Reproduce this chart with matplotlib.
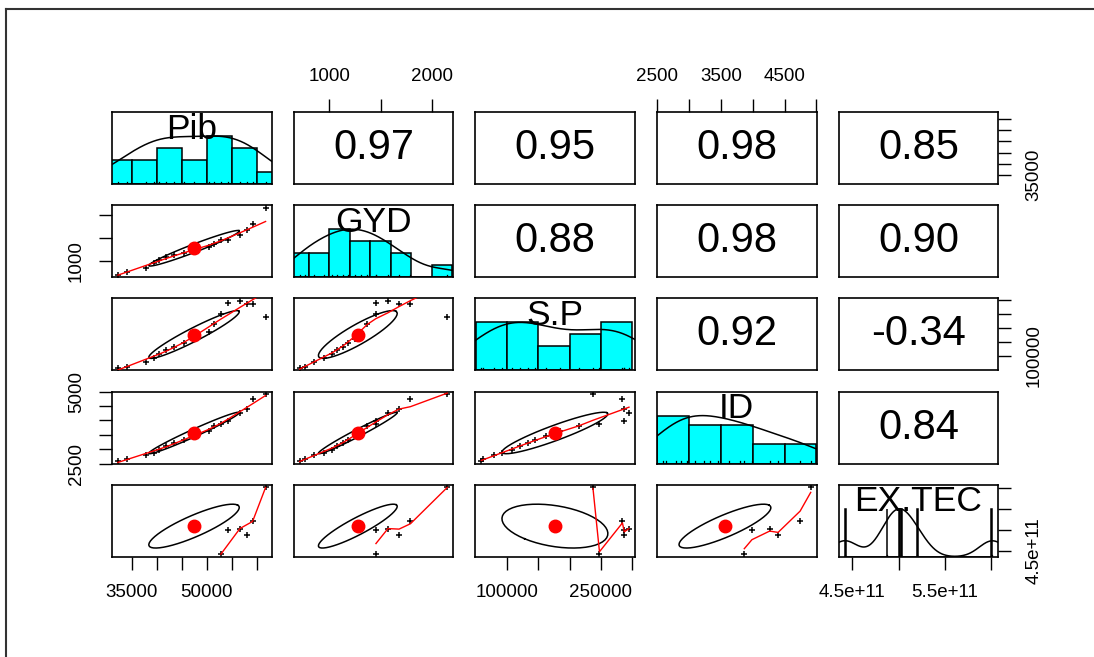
import numpy as np
import matplotlib
matplotlib.use('Agg')
import matplotlib.pyplot as plt
from matplotlib.lines import Line2D

plt.rcParams['font.family'] = ['Liberation Sans', 'DejaVu Sans']

nan = np.nan

## variables (17 observations, EX.TEC only known for the last six)
names = ['Pib', 'GYD', 'S.P', 'ID', 'EX.TEC']
pib = [32250, 34000, 37800, 39500, 40500, 41800, 43500, 45500, 47500, 50500, 51500,
       52860, 54200, 56660, 58120, 59200, 61800]
gyd = [711, 760, 850, 950, 1030, 1080, 1130, 1180, 1250, 1310, 1370,
       1455, 1460, 1572, 1680, 1791, 2150]
sp = [58360, 61000, 78500, 92000, 108000, 121000, 133000, 145000, 162000, 185000, 215000,
      247700, 287500, 295000, 286200, 284500, 237300]
id_ = [2590, 2640, 2800, 2880, 2960, 3100, 3230, 3330, 3450, 3620, 3800,
       3867, 3987, 4265, 4398, 4744, 4910]
ex_tec = [nan] * 11 + [4.42e11, 5.00e11, 5.03e11, 4.87e11, 5.20e11, 6.01e11]

# printed correlations, upper triangle row by row
r_values = [0.97, 0.95, 0.98, 0.85,
            0.88, 0.98, 0.90,
            0.92, -0.34,
            0.84]

# histogram bin widths
hist_step = [5000, 200, 50000, 500, 1e9]

# axis ticks / labels shown around the matrix
pib_ticks = [35000, 40000, 45000, 50000, 55000, 60000]
pib_bottom_labels = ['35000', '', '', '50000', '', '']
pib_right_labels = ['35000', '', '', '', '', '']
gyd_ticks = [1000, 1500, 2000]
gyd_top_labels = ['1000', '', '2000']
gyd_left_labels = ['1000', '', '']
sp_ticks = [100000, 150000, 200000, 250000, 300000]
sp_bottom_labels = ['100000', '', '', '250000', '']
sp_right_labels = ['100000', '', '', '', '']
id_ticks = [2500, 3000, 3500, 4000, 4500, 5000]
id_top_labels = ['2500', '', '3500', '', '4500', '']
id_left_labels = ['2500', '', '', '', '', '5000']
ex_ticks = [4.5e11, 5.0e11, 5.5e11, 6.0e11]
ex_bottom_labels = ['4.5e+11', '', '5.5e+11', '']
ex_right_labels = ['4.5e+11', '', '', '']

data = [np.array(v, dtype=float) for v in (pib, gyd, sp, id_, ex_tec)]
nv = len(data)

R = np.eye(nv)
k = 0
for i in range(nv):
	for j in range(i + 1, nv):
		R[i, j] = R[j, i] = r_values[k]
		k += 1


def lims(v):
	v = v[np.isfinite(v)]
	lo, hi = v.min(), v.max()
	d = 0.04 * (hi - lo)
	return lo - d, hi + d


def lowess(x, y, f=2 / 3., iters=3):
	o = np.argsort(x, kind='stable')
	x, y = x[o], y[o]
	n = len(x)
	ns = max(min(int(round(f * n)), n), 2)
	rw = np.ones(n)
	fit = np.zeros(n)
	xr = x[-1] - x[0]
	for it in range(iters + 1):
		for i in range(n):
			d = np.abs(x - x[i])
			h = np.sort(d)[ns - 1]
			if h > 0:
				u = d / h
				w = np.where(u <= 0.999, (1 - u ** 3) ** 3, 0.0)
				w[u <= 0.001] = 1.0
			else:
				w = (d == 0).astype(float)
			w = w * rw
			if w.sum() <= 0:
				fit[i] = y[i]
				continue
			w = w / w.sum()
			a = (w * x).sum()
			c = (w * (x - a) ** 2).sum()
			if np.sqrt(c) > 0.001 * xr:
				b = (x[i] - a) / c
				w = w * (b * (x - a) + 1.0)
			fit[i] = (w * y).sum()
		if it == iters:
			break
		res = y - fit
		cmad = 6 * np.median(np.abs(res))
		if cmad < 1e-7 * np.mean(np.abs(y)):
			break
		r = np.abs(res) / cmad
		rw = np.where(r <= 0.999, (1 - r ** 2) ** 2, 0.0)
		rw[r <= 0.001] = 1.0
	return x, fit


def density(v):
	v = v[np.isfinite(v)]
	n = len(v)
	q75, q25 = np.percentile(v, [75, 25])
	bw = 1.06 * min(v.std(ddof=1), (q75 - q25) / 1.34) * n ** -0.2
	gx = np.linspace(v.min() - 3 * bw, v.max() + 3 * bw, 512)
	gy = np.exp(-0.5 * ((gx[:, None] - v[None, :]) / bw) ** 2).sum(1)
	return gx, gy / gy.max()


W, H = 1094, 657
fig = plt.figure(figsize=(W / 100, H / 100), dpi=100)

col_left = [112 + 181.7 * c for c in range(nv)]
row_top = [112 + 93.2 * r for r in range(nv)]
pw, ph = 159.5, 72

axes = {}
for i in range(nv):
	for j in range(nv):
		ax = fig.add_axes([col_left[j] / W, 1 - (row_top[i] + ph) / H, pw / W, ph / H])
		axes[i, j] = ax
		xlo, xhi = lims(data[j])
		ylo, yhi = lims(data[i])
		ax.set_xlim(xlo, xhi)
		ax.set_ylim(ylo, yhi)
		ax.set_xticks([])
		ax.set_yticks([])
		for s in ax.spines.values():
			s.set_linewidth(1.2)
			s.set_color('black')

		if i == j:
			v = data[i]
			fv = v[np.isfinite(v)]
			st = hist_step[i]
			b0 = np.floor(fv.min() / st) * st
			b1 = np.ceil(fv.max() / st) * st
			edges = np.arange(b0, b1 + st * 0.5, st)
			cnt, edges = np.histogram(fv, bins=edges)
			hgt = cnt / cnt.max() / 1.5 * (yhi - ylo)
			ax.bar(edges[:-1], hgt, width=st, bottom=ylo, align='edge',
			       color='#00FFFF', edgecolor='black', linewidth=1.1, zorder=2)
			gx, gy = density(v)
			ax.plot(gx, ylo + gy / 1.5 * (yhi - ylo), color='black', lw=1.1, zorder=3)
			for xv in fv:
				ax.plot([xv, xv], [0, 0.03], color='black', lw=0.9,
				        transform=ax.get_xaxis_transform(), zorder=3)
			ax.text(0.5, 0.63, names[i], transform=ax.transAxes, ha='center',
			        va='baseline', fontsize=25.5, zorder=10)
		elif i < j:
			ax.text(0.5, 0.5, '%.2f' % R[i, j], transform=ax.transAxes, ha='center',
			        va='center', fontsize=30)
		else:
			x, y = data[j], data[i]
			ok = np.isfinite(x) & np.isfinite(y)
			ax.plot(x[ok], y[ok], '+', color='black', markersize=5, mew=1.1, zorder=2)
			xm, ym = np.nanmean(x), np.nanmean(y)
			xs, ys = np.nanstd(x, ddof=1), np.nanstd(y, ddof=1)
			r = R[i, j]
			th = np.sign(r) / np.sqrt(2) if abs(r) > 0 else 1 / np.sqrt(2)
			ang = np.linspace(0, 2 * np.pi, 52)
			a, b = np.sqrt(1 + r), np.sqrt(1 - r)
			ex = th * (a * np.cos(ang) - b * np.sin(ang)) * xs + xm
			ey = th * (a * np.cos(ang) + b * np.sin(ang)) * ys + ym
			ax.plot(xm, ym, 'o', color='red', markersize=9, zorder=4)
			ax.plot(ex, ey, color='black', lw=1.1, zorder=3)
			lx, ly = lowess(x[ok], y[ok])
			ax.plot(lx, ly, color='red', lw=1.0, zorder=5)

tick_kw = dict(direction='out', length=9.4, width=1.0, pad=10, labelsize=13.5, colors='black')


def top_axis(ax, ticks, labels):
	ax.set_xticks(ticks, labels=labels)
	ax.tick_params(axis='x', top=True, bottom=False, labeltop=True, labelbottom=False, **tick_kw)


def bottom_axis(ax, ticks, labels):
	ax.set_xticks(ticks, labels=labels)
	ax.tick_params(axis='x', **tick_kw)


def left_axis(ax, ticks, labels):
	ax.set_yticks(ticks, labels=labels, rotation=90, va='center')
	ax.tick_params(axis='y', **tick_kw)


def right_axis(ax, ticks, labels):
	ax.set_yticks(ticks, labels=labels, rotation=90, va='center')
	ax.tick_params(axis='y', right=True, left=False, labelright=True, labelleft=False, **tick_kw)


top_axis(axes[0, 1], gyd_ticks, gyd_top_labels)
top_axis(axes[0, 3], id_ticks, id_top_labels)
bottom_axis(axes[4, 0], pib_ticks, pib_bottom_labels)
bottom_axis(axes[4, 2], sp_ticks, sp_bottom_labels)
bottom_axis(axes[4, 4], ex_ticks, ex_bottom_labels)
left_axis(axes[1, 0], gyd_ticks, gyd_left_labels)
left_axis(axes[3, 0], id_ticks, id_left_labels)
right_axis(axes[0, 4], pib_ticks, pib_right_labels)
right_axis(axes[2, 4], sp_ticks, sp_right_labels)
right_axis(axes[4, 4], ex_ticks, ex_right_labels)

# window frame of the screenshot
fig.add_artist(Line2D([6 / W, 1], [1 - 9 / H, 1 - 9 / H], color='#333333', lw=1.5))
fig.add_artist(Line2D([6 / W, 6 / W], [0, 1 - 9 / H], color='#333333', lw=1.5))

fig.savefig('out.png', dpi=100)
